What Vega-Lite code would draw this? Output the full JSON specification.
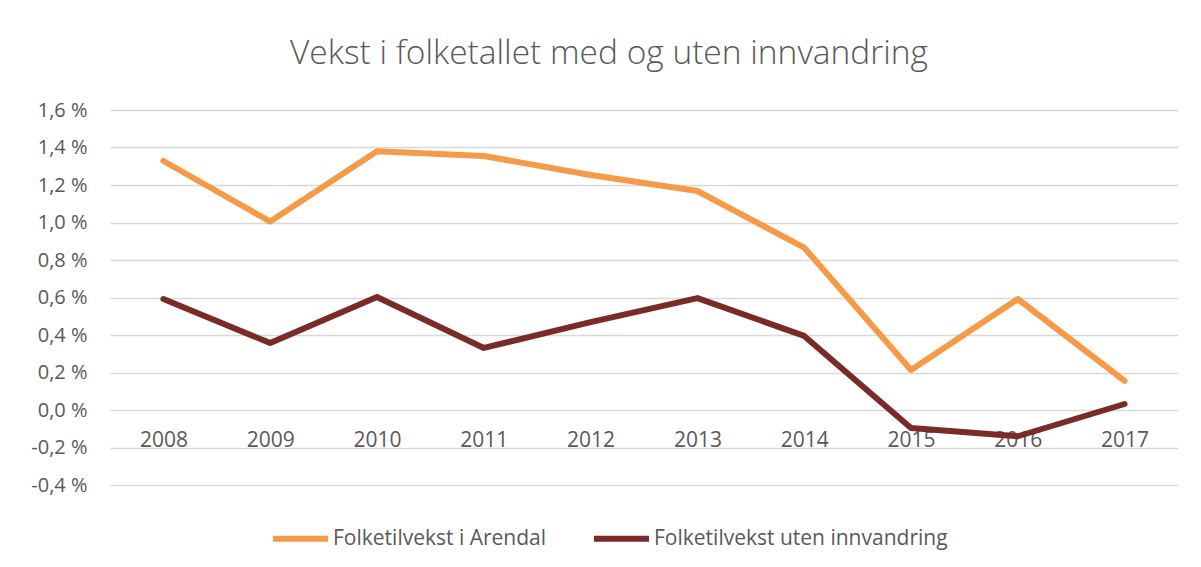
{
  "$schema": "https://vega.github.io/schema/vega-lite/v6.json",
  "autosize": "none",
  "width": 1068,
  "height": 375,
  "padding": {"left": 110, "top": 110, "right": 23, "bottom": 82},
  "background": "white",
  "config": {
    "locale": {"number": {"decimal": ",", "thousands": " ", "grouping": [3], "currency": ["", " kr"], "percent": " %", "minus": "-"}},
    "view": {"stroke": null},
    "font": "Open Sans"
  },
  "title": {
    "text": "Vekst i folketallet med og uten innvandring",
    "fontSize": 33.5,
    "font": "Open Sans",
    "fontWeight": 300,
    "color": "#595959",
    "anchor": "middle",
    "dx": -35,
    "baseline": "alphabetic",
    "offset": 3
  },
  "data": {
    "values": [
      {"year": "2008", "serie": "Folketilvekst i Arendal", "value": 0.01328},
      {"year": "2009", "serie": "Folketilvekst i Arendal", "value": 0.01005},
      {"year": "2010", "serie": "Folketilvekst i Arendal", "value": 0.01380},
      {"year": "2011", "serie": "Folketilvekst i Arendal", "value": 0.01355},
      {"year": "2012", "serie": "Folketilvekst i Arendal", "value": 0.01253},
      {"year": "2013", "serie": "Folketilvekst i Arendal", "value": 0.01168},
      {"year": "2014", "serie": "Folketilvekst i Arendal", "value": 0.00866},
      {"year": "2015", "serie": "Folketilvekst i Arendal", "value": 0.00213},
      {"year": "2016", "serie": "Folketilvekst i Arendal", "value": 0.00592},
      {"year": "2017", "serie": "Folketilvekst i Arendal", "value": 0.00155},
      {"year": "2008", "serie": "Folketilvekst uten innvandring", "value": 0.00592},
      {"year": "2009", "serie": "Folketilvekst uten innvandring", "value": 0.00357},
      {"year": "2010", "serie": "Folketilvekst uten innvandring", "value": 0.00603},
      {"year": "2011", "serie": "Folketilvekst uten innvandring", "value": 0.00331},
      {"year": "2012", "serie": "Folketilvekst uten innvandring", "value": 0.00469},
      {"year": "2013", "serie": "Folketilvekst uten innvandring", "value": 0.00597},
      {"year": "2014", "serie": "Folketilvekst uten innvandring", "value": 0.00395},
      {"year": "2015", "serie": "Folketilvekst uten innvandring", "value": -0.00096},
      {"year": "2016", "serie": "Folketilvekst uten innvandring", "value": -0.00140},
      {"year": "2017", "serie": "Folketilvekst uten innvandring", "value": 0.00032}
    ]
  },
  "mark": {"type": "line", "strokeWidth": 6, "strokeCap": "round", "strokeJoin": "round"},
  "encoding": {
    "x": {
      "field": "year",
      "type": "nominal",
      "title": null,
      "scale": {"type": "point", "padding": 0.5},
      "axis": {
        "offset": -75,
        "domain": false,
        "ticks": false,
        "grid": false,
        "labelAngle": 0,
        "labelFontSize": 21,
        "labelColor": "#595959",
        "labelPadding": 19,
        "labelFont": "Open Sans"
      }
    },
    "y": {
      "field": "value",
      "type": "quantitative",
      "title": null,
      "scale": {"domain": [-0.004, 0.016], "nice": false, "zero": false},
      "axis": {
        "values": [-0.004, -0.002, 0, 0.002, 0.004, 0.006, 0.008, 0.01, 0.012, 0.014, 0.016],
        "format": ".1%",
        "domain": false,
        "ticks": false,
        "grid": true,
        "gridColor": "#D9D9D9",
        "gridWidth": 1.5,
        "labelFontSize": 20,
        "labelColor": "#595959",
        "labelPadding": 23,
        "labelFont": "Open Sans"
      }
    },
    "color": {
      "field": "serie",
      "type": "nominal",
      "title": null,
      "scale": {"domain": ["Folketilvekst i Arendal", "Folketilvekst uten innvandring"], "range": ["#F79A48", "#7A2B28"]},
      "legend": {
        "orient": "none",
        "direction": "horizontal",
        "legendX": 160,
        "legendY": 398,
        "symbolType": "stroke",
        "symbolSize": 3025,
        "symbolStrokeWidth": 6,
        "labelFontSize": 21,
        "labelColor": "#595959",
        "labelFont": "Open Sans",
        "labelOffset": 2,
        "columnPadding": 35,
        "labelLimit": 400
      }
    }
  }
}
